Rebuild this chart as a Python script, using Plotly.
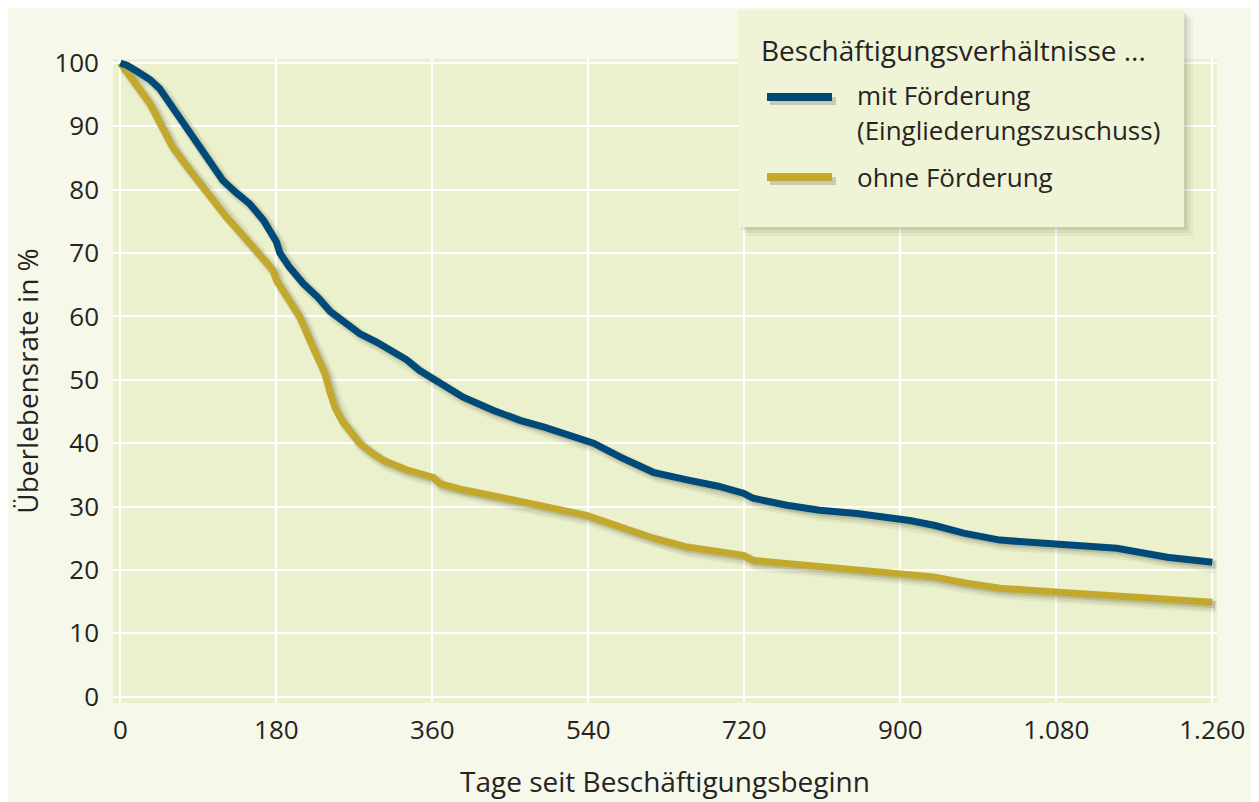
import plotly.graph_objects as go

# ---- data ----
days_mit = [0, 8, 20, 34, 45, 57, 70, 80, 92, 105, 118, 133, 149, 165, 176, 180, 184,
            195, 211, 228, 242, 260, 276, 295, 311, 330, 345, 363, 380, 395, 430, 461,
            490, 511, 546, 577, 615, 654, 690, 719, 730, 769, 807, 850, 900, 911, 940,
            973, 1015, 1079, 1150, 1208, 1260]
rate_mit = [100, 99.6, 98.6, 97.4, 96, 93.6, 91.2, 89.2, 86.4, 83.9, 81.5, 79.6, 77.8,
            75.2, 73.0, 71.8, 70.0, 67.8, 65.2, 63.0, 60.8, 59.0, 57.3, 56.0, 54.7, 53.2,
            51.5, 50.0, 48.5, 47.3, 45.2, 43.6, 42.5, 41.5, 40.0, 37.8, 35.4, 34.2, 33.2,
            32.1, 31.3, 30.2, 29.4, 28.9, 28.1, 27.8, 27.0, 25.8, 24.7, 24.2, 23.4, 22.0,
            21.2]

days_ohne = [0, 10, 22, 34, 47, 60, 75, 92, 107, 122, 138, 153, 166, 176, 180, 190, 207,
             222, 230, 236, 242, 248, 256, 265, 276, 290, 303, 330, 361, 369, 396, 430,
             461, 500, 538, 577, 615, 654, 690, 719, 730, 770, 807, 850, 900, 938, 977,
             1015, 1079, 1169, 1260]
rate_ohne = [100, 98.2, 96, 93.6, 90.2, 86.8, 84, 81, 78.3, 75.7, 73.3, 71, 69, 67.3,
             65.7, 63.5, 59.9, 55.2, 53.0, 51.0, 48.0, 45.5, 43.5, 42.0, 40.0, 38.5, 37.3,
             35.8, 34.6, 33.6, 32.6, 31.7, 30.7, 29.7, 28.6, 26.8, 25.0, 23.6, 22.9, 22.3,
             21.5, 21.0, 20.5, 20.0, 19.5, 18.9, 17.9, 17.1, 16.5, 15.8, 14.9]

x_ticks = [0, 180, 360, 540, 720, 900, 1080, 1260]
x_tick_labels = ["0", "180", "360", "540", "720", "900", "1.080", "1.260"]
y_ticks = [0, 10, 20, 30, 40, 50, 60, 70, 80, 90, 100]

series_names = ["mit Förderung", "ohne Förderung"]
legend_title = "Beschäftigungsverhältnisse ..."
legend_line2 = "(Eingliederungszuschuss)"
x_title = "Tage seit Beschäftigungsbeginn"
y_title = "Überlebensrate in %"

# ---- styling ----
BLUE = "#004a7a"
GOLD = "#c3a82e"
PAGE = "#f6f8ea"
PANEL = "#ebf1cc"
LEGBG = "#eff4d6"
TXT = "#262324"
FONT = "Open Sans"

O = 8  # page body margin offset
W, H = 1259 - O, 802 - O
L, R, T, B = 113 - O, 1217 - O, 59 - O, 703 - O  # plot panel in figure pixels


def px(xs):
    # screen x pixel -> paper x
    return (xs - O - L) / (R - L)


def py(ys):
    # screen y pixel -> paper y
    return (B - (ys - O)) / (B - T)


fig = go.Figure()

# soft drop shadows of the curves (same data, small offset)
for d, r in [(days_mit, rate_mit), (days_ohne, rate_ohne)]:
    for w, a, dx, dy in [(13, 0.06, 5.0, 0.7), (10, 0.10, 4.0, 0.55), (7, 0.16, 3.0, 0.4)]:
        fig.add_trace(go.Scatter(
            x=[v + dx for v in d], y=[v - dy for v in r], mode="lines",
            line=dict(color=f"rgba(70,70,40,{a})", width=w),
            hoverinfo="skip", showlegend=False))

fig.add_trace(go.Scatter(x=days_ohne, y=rate_ohne, mode="lines", name=series_names[1],
                         line=dict(color=GOLD, width=7), showlegend=False))
fig.add_trace(go.Scatter(x=days_mit, y=rate_mit, mode="lines", name=series_names[0],
                         line=dict(color=BLUE, width=7), showlegend=False))

# ---- manual legend box ----
shapes = []
bx0, bx1, by0, by1 = 738, 1184, 10, 227
for off, a in [(9, 0.05), (6, 0.08), (3, 0.10)]:
    shapes.append(dict(type="rect", xref="paper", yref="paper",
                       x0=px(bx0 + off), x1=px(bx1 + off), y0=py(by0 + off), y1=py(by1 + off),
                       fillcolor=f"rgba(80,80,50,{a})", line=dict(width=0), layer="above"))
shapes.append(dict(type="rect", xref="paper", yref="paper",
                   x0=px(bx0), x1=px(bx1), y0=py(by0), y1=py(by1),
                   fillcolor=LEGBG, line=dict(width=0), layer="above"))
for ly, col in [(97, BLUE), (177, GOLD)]:
    shapes.append(dict(type="line", xref="paper", yref="paper",
                       x0=px(770), x1=px(836), y0=py(ly + 4), y1=py(ly + 4),
                       line=dict(color="rgba(60,60,40,0.22)", width=8), layer="above"))
    shapes.append(dict(type="line", xref="paper", yref="paper",
                       x0=px(767), x1=px(832), y0=py(ly), y1=py(ly),
                       line=dict(color=col, width=8), layer="above"))

annotations = [
    dict(text=legend_title, x=px(759), y=py(50), xref="paper", yref="paper",
         xanchor="left", yanchor="middle", showarrow=False,
         font=dict(family=FONT, size=28, color=TXT)),
    dict(text=series_names[0], x=px(855), y=py(95), xref="paper", yref="paper",
         xanchor="left", yanchor="middle", showarrow=False,
         font=dict(family=FONT, size=26, color=TXT)),
    dict(text=legend_line2, x=px(855), y=py(130), xref="paper", yref="paper",
         xanchor="left", yanchor="middle", showarrow=False,
         font=dict(family=FONT, size=26, color=TXT)),
    dict(text=series_names[1], x=px(855), y=py(177), xref="paper", yref="paper",
         xanchor="left", yanchor="middle", showarrow=False,
         font=dict(family=FONT, size=26, color=TXT)),
]

fig.update_layout(
    width=W, height=H,
    margin=dict(l=L, r=W - R, t=T, b=H - B, pad=0, autoexpand=False),
    paper_bgcolor=PAGE, plot_bgcolor=PANEL,
    font=dict(family=FONT, size=26, color=TXT),
    shapes=shapes, annotations=annotations,
    showlegend=False,
    xaxis=dict(range=[-8.5, 1265.4], tickmode="array", tickvals=x_ticks,
               ticktext=x_tick_labels, showgrid=True, gridcolor="white", gridwidth=2,
               zeroline=False, showline=False, ticks="", ticklabelstandoff=9,
               automargin=False,
               tickfont=dict(family=FONT, size=26, color=TXT),
               title=dict(text=x_title, standoff=26,
                          font=dict(family=FONT, size=28, color=TXT))),
    yaxis=dict(range=[-1.01, 100.63], tickmode="array", tickvals=y_ticks,
               showgrid=True, gridcolor="white", gridwidth=2,
               zeroline=False, showline=False, ticks="", ticklabelstandoff=13,
               automargin=False,
               tickfont=dict(family=FONT, size=26, color=TXT),
               title=dict(text=y_title, standoff=8,
                          font=dict(family=FONT, size=28, color=TXT))),
)

fig.write_html("out.html", config={"displayModeBar": False})
